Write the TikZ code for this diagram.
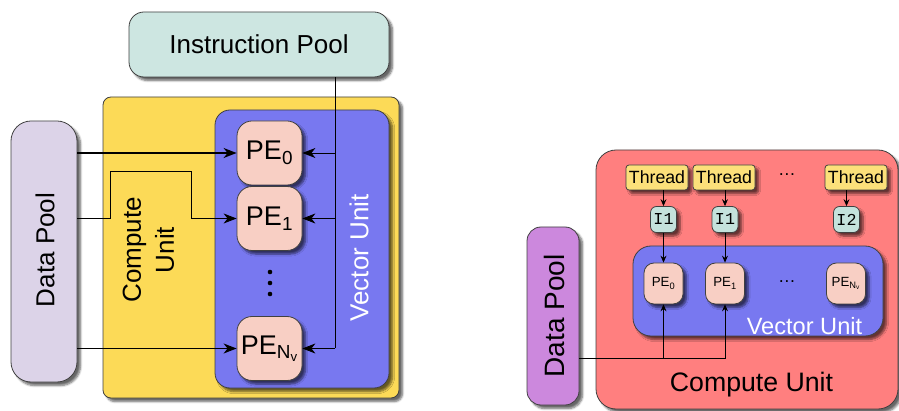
\documentclass[tikz,border=0pt]{standalone}
\usepackage{fontspec}
\setmainfont{Liberation Sans}
\setmonofont{Liberation Mono}
\usetikzlibrary{arrows.meta,shadows.blur}

\definecolor{instrcol}{HTML}{CDE6E1}
\definecolor{cucol}{HTML}{FCDA57}
\definecolor{dpcol}{HTML}{DCD3E8}
\definecolor{vucol}{HTML}{7878F0}
\definecolor{pecol}{HTML}{F8CFC4}
\definecolor{redcu}{HTML}{FF7F7F}
\definecolor{dpcolb}{HTML}{CC88DD}
\definecolor{thrcol}{HTML}{FCE07A}
\definecolor{inscol}{HTML}{C4E2DC}

\begin{document}
\begin{tikzpicture}[x=1pt,y=-1pt]
	\tikzstyle{every node}+=[inner sep=0pt]
	\tikzstyle{box}=[draw=black!75, line width=0.8pt, rectangle, rounded corners=15,
		blur shadow={shadow xshift=3.5pt, shadow yshift=-3.5pt, shadow blur steps=6, shadow opacity=60}]
	\tikzstyle{big}=[font=\fontsize{26}{33}\selectfont]
	\tikzstyle{pebig}=[box, fill=pecol, minimum width=65, minimum height=64, font=\fontsize{27}{33}\selectfont]
	\tikzstyle{pesmall}=[box, fill=pecol, rounded corners=10, minimum width=39, minimum height=41,
		font=\fontsize{13.3}{14}\selectfont]
	\tikzstyle{thread}=[box, fill=thrcol, rounded corners=3, minimum width=62, minimum height=25,
		font=\fontsize{17.7}{18}\selectfont]
	\tikzstyle{instr}=[box, fill=inscol, rounded corners=6, minimum width=26, minimum height=26,
		font=\ttfamily\fontsize{16.7}{17}\selectfont]
	\tikzstyle{wire}=[line width=1pt, -{Stealth[length=13pt,width=10pt,inset=4pt]}]
	\tikzstyle{thinwire}=[line width=0.8pt, -{Stealth[length=7pt,width=6pt,inset=2.5pt]}]

	\useasboundingbox (0,0) rectangle (899,411);
	\clip (0,0) rectangle (899,411);

	% left: SIMD view
	\node[box, fill=instrcol, minimum width=260, minimum height=65, big] (ipool) at (259,44.5) {Instruction Pool};
	\node[box, fill=cucol, rounded corners=8, minimum width=296, minimum height=301] (cu) at (251,247.5) {};
	\node[box, fill=dpcol, rounded corners=20, minimum width=66, minimum height=261] (dp) at (44,251.5) {};
	\node[big, rotate=90] at (45,250) {Data Pool};
	\node[big, rotate=90, align=center] at (148.5,250) {Compute\\Unit};
	\node[box, fill=vucol, minimum width=174, minimum height=278] (vu) at (302,249) {};
	\node[big, rotate=90, text=white] at (359,258) {Vector Unit};
	\node[pebig] (pe0) at (269.5,153) {PE\textsubscript{0}};
	\node[pebig] (pe1) at (269.5,218.5) {PE\textsubscript{1}};
	\node[pebig] (pen) at (269.5,348.5) {PE\textsubscript{N\textsubscript{v}}};
	\foreach \y in {272,283,294}
		\fill (270,\y) circle (2.3);

	\coordinate (ibus) at (335,348.5);
	\draw[line width=0.8pt] (ipool.south -| ibus) -- (ibus);
	\foreach \n in {pe0,pe1,pen}
		\draw[wire, line width=0.8pt] (ibus |- \n) -- (\n);

	\draw[wire, line width=1.5pt] (dp.east |- pe0) -- (pe0);
	\draw[wire] (dp.east |- pe1) -| ++(33,-46.5) -| ([xshift=-45pt]pe1.west) -- (pe1);
	\draw[wire, line width=1.5pt] (dp.east |- pen) -- (pen);

	% right: SIMT view
	\node[box, fill=redcu, rounded corners=20, minimum width=302, minimum height=259] (cur) at (747,279.5) {};
	\node[font=\fontsize{26.7}{28}\selectfont] at (751.5,385) {Compute Unit};
	\node[box, fill=dpcolb, rounded corners=14, minimum width=52, minimum height=178] (dpr) at (553,316) {};
	\node[rotate=90, font=\fontsize{28}{30}\selectfont] at (554,316) {Data Pool};
	\node[box, fill=vucol, rounded corners=18, minimum width=250, minimum height=90] (vur) at (758,291) {};
	\node[text=white, font=\fontsize{23.6}{25}\selectfont] at (804.5,326) {Vector Unit};

	\node[thread] (t0) at (657,177.5) {Thread};
	\node[thread] (t1) at (724,177.5) {Thread};
	\node[thread] (tn) at (856,177.5) {Thread};
	\node[font=\fontsize{17.7}{18}\selectfont] at (787,175) {\dots};
	\node[instr] (i0) at (663.5,219.5) {I1};
	\node[instr] (i1) at (725,219.5) {I1};
	\node[instr] (in) at (846.5,219.5) {I2};
	\node[pesmall] (q0) at (663.5,283.5) {PE\textsubscript{0}};
	\node[pesmall] (q1) at (725,283.5) {PE\textsubscript{1}};
	\node[pesmall] (qn) at (846,283.5) {PE\textsubscript{N\textsubscript{v}}};
	\node[font=\fontsize{17.7}{18}\selectfont] at (787,282) {\dots};

	\draw[thinwire] (t0.south -| i0) -- (i0);
	\draw[thinwire] (t1.south -| i1) -- (i1);
	\draw[thinwire] (tn.south -| in) -- (in);
	\draw[thinwire] (i0) -- (q0);
	\draw[thinwire] (i1) -- (q1);

	\coordinate (dbus) at (725,358);
	\draw[thinwire] (dpr.east |- dbus) -| (q1);
	\draw[thinwire] (q0 |- dbus) -- (q0);
\end{tikzpicture}
\end{document}
